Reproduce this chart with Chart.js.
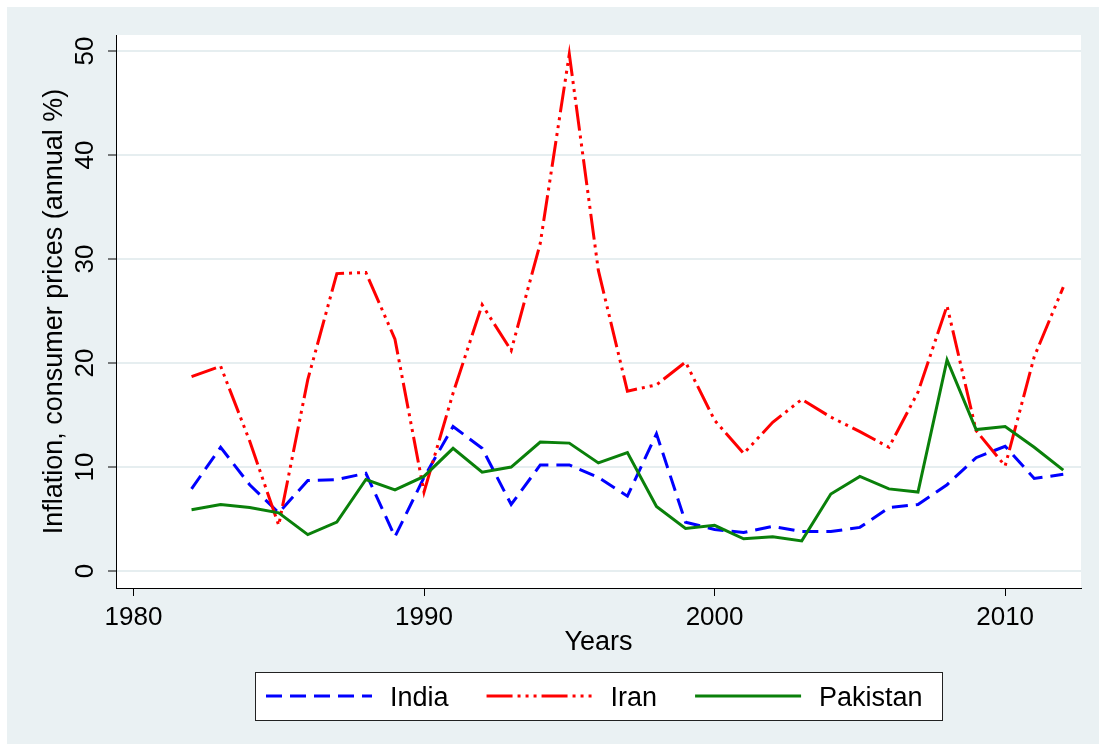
<!DOCTYPE html>
<html>
<head>
<meta charset="utf-8">
<script src="https://cdn.jsdelivr.net/npm/chart.js@4/dist/chart.umd.min.js"></script>
<style>
  body { margin: 0; background: #fff; }
  #wrap { width: 1106px; height: 751px; }
</style>
</head>
<body>
<div id="wrap"><canvas id="chart" width="1106" height="751"></canvas></div>
<script>
// Data (annual CPI inflation, %)
const years = [1982, 1983, 1984, 1985, 1986, 1987, 1988, 1989, 1990, 1991, 1992, 1993, 1994, 1995, 1996, 1997,
  1998, 1999, 2000, 2001, 2002, 2003, 2004, 2005, 2006, 2007, 2008, 2009, 2010, 2011, 2012];
const india = [7.9, 11.9, 8.3, 5.6, 8.7, 8.8, 9.4, 3.3, 9.0, 13.9, 11.8, 6.4, 10.2, 10.2, 9.0, 7.2,
  13.2, 4.7, 4.0, 3.7, 4.3, 3.8, 3.8, 4.2, 6.1, 6.4, 8.3, 10.9, 12.0, 8.9, 9.3];
const iran = [18.7, 19.7, 12.5, 4.4, 18.4, 28.6, 28.7, 22.3, 7.6, 17.1, 25.6, 21.2, 31.5, 49.7, 28.9, 17.3,
  17.9, 20.1, 14.5, 11.3, 14.3, 16.5, 14.8, 13.4, 11.9, 17.2, 25.5, 13.5, 10.1, 20.6, 27.3];
const pakistan = [5.9, 6.4, 6.1, 5.6, 3.5, 4.7, 8.8, 7.8, 9.1, 11.8, 9.5, 10.0, 12.4, 12.3, 10.4, 11.4,
  6.2, 4.1, 4.4, 3.1, 3.3, 2.9, 7.4, 9.1, 7.9, 7.6, 20.3, 13.6, 13.9, 11.9, 9.7];
const seriesNames = ["India", "Iran", "Pakistan"];
const xTicks = [1980, 1990, 2000, 2010];
const yTicks = [0, 10, 20, 30, 40, 50];

const FONT = "'Liberation Sans', Arial, sans-serif";
const BG = "#eaf1f3";

const toPoints = (vals) => years.map((yr, i) => ({ x: yr, y: vals[i] }));

// Stata-like backgrounds
const backdrop = {
  id: "backdrop",
  beforeDraw(chart) {
    const { ctx, chartArea: a } = chart;
    ctx.save();
    ctx.fillStyle = "#fff";
    ctx.fillRect(0, 0, chart.width, chart.height);
    ctx.fillStyle = BG;
    ctx.fillRect(7, 7, chart.width - 14, chart.height - 14);
    ctx.fillStyle = "#fff";
    ctx.fillRect(a.left, a.top, a.right - a.left, a.bottom - a.top);
    ctx.restore();
  }
};

// rotated y tick labels
const yLabels = {
  id: "yLabels",
  afterDraw(chart) {
    const { ctx } = chart;
    const y = chart.scales.y;
    ctx.save();
    ctx.fillStyle = "#000";
    ctx.font = "26px " + FONT;
    ctx.textAlign = "center";
    ctx.textBaseline = "alphabetic";
    yTicks.forEach(v => {
      ctx.save();
      ctx.translate(93, y.getPixelForValue(v));
      ctx.rotate(-Math.PI / 2);
      ctx.fillText(String(v), 0, 0);
      ctx.restore();
    });
    ctx.restore();
  }
};

// boxed legend under the plot
const boxLegend = {
  id: "boxLegend",
  afterDraw(chart) {
    const { ctx } = chart;
    ctx.save();
    ctx.fillStyle = "#fff";
    ctx.fillRect(255, 672, 687, 48);
    ctx.strokeStyle = "#222";
    ctx.lineWidth = 1;
    ctx.strokeRect(255.5, 672.5, 687, 48);
    ctx.font = "27px " + FONT;
    ctx.textBaseline = "alphabetic";
    let x = 266;
    chart.data.datasets.forEach(ds => {
      ctx.strokeStyle = ds.borderColor;
      ctx.lineWidth = ds.borderWidth;
      ctx.setLineDash(ds.borderDash || []);
      ctx.beginPath();
      ctx.moveTo(x, 696);
      ctx.lineTo(x + 106, 696);
      ctx.stroke();
      ctx.setLineDash([]);
      ctx.fillStyle = "#000";
      ctx.fillText(ds.label, x + 124, 706);
      x += 124 + ctx.measureText(ds.label).width + 38;
    });
    ctx.restore();
  }
};

const ctx = document.getElementById("chart").getContext("2d");
new Chart(ctx, {
  type: "line",
  data: {
    datasets: [
      { label: seriesNames[0], data: toPoints(india), borderColor: "#0000ff", borderWidth: 3, borderDash: [16, 8], order: 3 },
      { label: seriesNames[1], data: toPoints(iran), borderColor: "#ff0000", borderWidth: 3, borderDash: [26, 5, 3, 5, 3, 5, 3, 5], order: 2 },
      { label: seriesNames[2], data: toPoints(pakistan), borderColor: "#0a800a", borderWidth: 3, order: 1 }
    ]
  },
  options: {
    responsive: false,
    animation: false,
    devicePixelRatio: 1,
    layout: { padding: { left: 0, top: 35, right: 25, bottom: 83 } },
    elements: { point: { radius: 0 }, line: { tension: 0, fill: false } },
    plugins: { legend: { display: false }, tooltip: { enabled: false } },
    scales: {
      x: {
        type: "linear",
        min: 1979.4,
        max: 2012.61,
        afterFit: s => { s.height = 80; },
        afterBuildTicks: s => { s.ticks = xTicks.map(v => ({ value: v })); },
        ticks: {
          color: "#000",
          font: { family: FONT, size: 26 },
          padding: 6,
          maxRotation: 0,
          callback: v => String(v)
        },
        grid: { display: true, drawOnChartArea: false, drawTicks: true, tickLength: 8, tickColor: "#000", tickWidth: 1 },
        border: { display: true, color: "#000", width: 1 },
        title: { display: true, text: "Years", color: "#000", font: { family: FONT, size: 27 }, padding: { top: 0, bottom: 9 } }
      },
      y: {
        min: -1.63,
        max: 51.54,
        afterFit: s => { s.width = 116; },
        afterBuildTicks: s => { s.ticks = yTicks.map(v => ({ value: v })); },
        ticks: { display: false },
        grid: { color: "#e6eef0", lineWidth: 2, drawTicks: true, tickLength: 8, tickColor: "#000", tickWidth: 1 },
        border: { display: true, color: "#000", width: 1 },
        title: {
          display: true,
          text: "Inflation, consumer prices (annual %)",
          color: "#000",
          font: { family: FONT, size: 27 },
          padding: { top: 38, bottom: 0 }
        }
      }
    }
  },
  plugins: [backdrop, yLabels, boxLegend]
});
</script>
</body>
</html>
